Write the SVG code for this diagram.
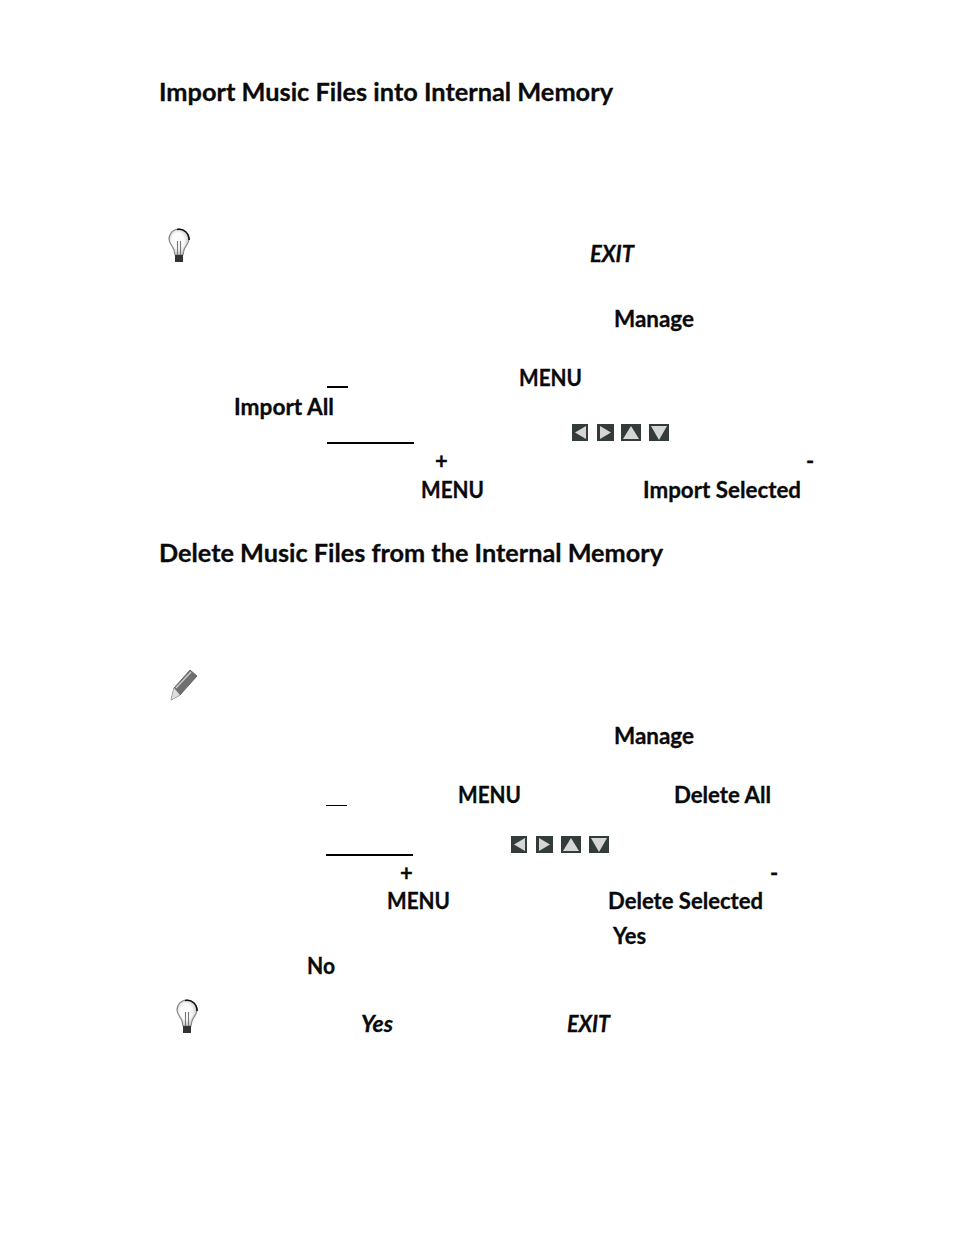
<svg xmlns="http://www.w3.org/2000/svg" width="954" height="1235" viewBox="0 0 954 1235">
<style>
text{font-family:"Lato","Carlito","Liberation Sans",sans-serif;font-weight:700;fill:#0a0a0a;stroke:#0a0a0a;stroke-width:0.3}
.h{font-size:25px}
.b{font-size:22px}
.i{font-size:22px;font-style:italic}
.u{stroke:#000}
.k{fill:#333b3b}
.g{fill:#d6d6d6}
</style>
<defs>
<filter id="s" x="-20%" y="-20%" width="140%" height="140%"><feGaussianBlur stdDeviation="0.5"/></filter>
<radialGradient id="glass" cx="0.45" cy="0.45" r="0.6"><stop offset="0.5" stop-color="#fafafa"/><stop offset="1" stop-color="#bdbdbd"/></radialGradient>
<g id="bulb" filter="url(#s)">
<path d="M-5 0C-6 -4 -10 -6 -10 -11A10 10 0 0 1 10 -11C10 -6 6 -4 5 0L4 5H-4Z" fill="url(#glass)" stroke="#888" stroke-width="1.2"/>
<path d="M-2 -20.500A10 10 0 0 1 10 -10" fill="none" stroke="#111" stroke-width="1.6"/>
<path d="M-1.500 -9V5M1.500 -9V5" stroke="#777" stroke-width="1.100" fill="none"/>
<rect x="-4" y="5" width="8" height="7" fill="#333"/>
</g>
<g id="left"><rect class="k" width="16" height="17"/><path class="g" d="M14 2V15L3 8.500Z"/></g>
<g id="right"><rect class="k" width="17" height="17"/><path class="g" d="M3 2V15L14 8.500Z"/></g>
<g id="up"><rect class="k" width="20" height="17"/><path class="g" d="M10 2L18 15H2Z"/></g>
<g id="down"><rect class="k" width="20" height="17"/><path class="g" d="M2 2H18L10 16Z"/></g>
</defs>

<g id="import-section">
<text class="h" x="159" y="100.500" textLength="454" lengthAdjust="spacingAndGlyphs">Import Music Files into Internal Memory</text>
<use href="#bulb" x="179" y="250"/>
<text class="i" x="590" y="262" textLength="44" lengthAdjust="spacingAndGlyphs">EXIT</text>
<text class="b" x="614" y="327" textLength="80" lengthAdjust="spacingAndGlyphs">Manage</text>
<text class="b" x="519" y="386" textLength="63" lengthAdjust="spacingAndGlyphs">MENU</text>
<line class="u" x1="327" y1="387" x2="348" y2="387" stroke-width="2"/>
<text class="b" x="234" y="415" textLength="100" lengthAdjust="spacingAndGlyphs">Import All</text>
<line class="u" x1="327" y1="443" x2="414" y2="443" stroke-width="2"/>
<use href="#left" x="572" y="424"/>
<use href="#right" x="597" y="424"/>
<use href="#up" x="621" y="424"/>
<use href="#down" x="649" y="424"/>
<text class="b" x="435" y="469">+</text>
<text class="b" x="806" y="469">-</text>
<text class="b" x="421" y="498" textLength="63" lengthAdjust="spacingAndGlyphs">MENU</text>
<text class="b" x="643" y="498" textLength="158" lengthAdjust="spacingAndGlyphs">Import Selected</text>
</g>

<g id="delete-section">
<text class="h" x="159" y="561.500" textLength="504" lengthAdjust="spacingAndGlyphs">Delete Music Files from the Internal Memory</text>
<g id="pencil" filter="url(#s)">
<path d="M171 700L174 688L190 670L197 676L180 695Z" fill="#6f6f6f" stroke="#555" stroke-width="0.8"/>
<path d="M171 700L174 688L180 695Z" fill="#ddd"/>
<path d="M176 688L191 672" stroke="#ccc" stroke-width="1.5" fill="none"/>
</g>
<text class="b" x="614" y="744" textLength="80" lengthAdjust="spacingAndGlyphs">Manage</text>
<text class="b" x="458" y="803" textLength="63" lengthAdjust="spacingAndGlyphs">MENU</text>
<text class="b" x="674" y="803" textLength="97" lengthAdjust="spacingAndGlyphs">Delete All</text>
<line class="u" x1="326" y1="805.500" x2="347" y2="805.500" stroke-width="1"/>
<line class="u" x1="326" y1="855" x2="413" y2="855" stroke-width="2"/>
<use href="#left" x="511" y="836"/>
<use href="#right" x="536" y="836"/>
<use href="#up" x="561" y="836"/>
<use href="#down" x="589" y="836"/>
<text class="b" x="400" y="881">+</text>
<text class="b" x="770" y="881">-</text>
<text class="b" x="387" y="909" textLength="63" lengthAdjust="spacingAndGlyphs">MENU</text>
<text class="b" x="608" y="909" textLength="155" lengthAdjust="spacingAndGlyphs">Delete Selected</text>
<text class="b" x="613" y="944" textLength="33" lengthAdjust="spacingAndGlyphs">Yes</text>
<text class="b" x="307" y="974" textLength="28" lengthAdjust="spacingAndGlyphs">No</text>
<use href="#bulb" x="187" y="1021"/>
<text class="i" x="361" y="1032" textLength="32" lengthAdjust="spacingAndGlyphs">Yes</text>
<text class="i" x="567" y="1032" textLength="43" lengthAdjust="spacingAndGlyphs">EXIT</text>
</g>
</svg>
